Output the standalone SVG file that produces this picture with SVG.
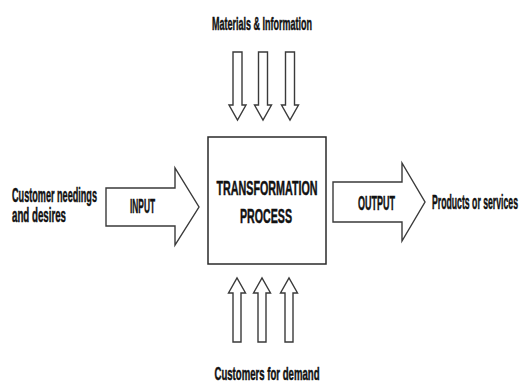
<svg xmlns="http://www.w3.org/2000/svg" width="519" height="383" viewBox="0 0 519 383">
  <style>
    .lbl { font-family: "Liberation Sans", Arial, sans-serif; font-weight: bold; fill: #111111; stroke: #111111; stroke-width: 0.5; font-size: 20px; }
    .sm { font-size: 18px; }
    .arrow { fill: #ffffff; stroke: #3a3a3a; stroke-width: 1.4; stroke-linejoin: miter; }
    .box { fill: #ffffff; stroke: #2a2a2a; stroke-width: 1.5; }
  </style>
  <rect width="519" height="383" fill="#ffffff"/>

  <!-- central process -->
  <g id="process">
    <rect class="box" x="208" y="137" width="118" height="127"/>
    <text class="lbl" x="267" y="195" text-anchor="middle" textLength="101" lengthAdjust="spacingAndGlyphs">TRANSFORMATION</text>
    <text class="lbl" x="266" y="223" text-anchor="middle" textLength="52" lengthAdjust="spacingAndGlyphs">PROCESS</text>
  </g>

  <!-- outer labels -->
  <g id="materials">
    <text class="lbl sm" x="262" y="30" text-anchor="middle" textLength="100" lengthAdjust="spacingAndGlyphs">Materials &amp; Information</text>
  </g>
  <g id="customers-demand">
    <text class="lbl sm" x="267" y="380" text-anchor="middle" textLength="105" lengthAdjust="spacingAndGlyphs">Customers for demand</text>
  </g>
  <g id="customer-needs">
    <text class="lbl" x="12" y="202" textLength="85" lengthAdjust="spacingAndGlyphs">Customer needings</text>
    <text class="lbl" x="12" y="222" textLength="54" lengthAdjust="spacingAndGlyphs">and desires</text>
  </g>
  <g id="products">
    <text class="lbl" x="432" y="209" textLength="86" lengthAdjust="spacingAndGlyphs">Products or services</text>
  </g>

  <!-- connectors: block arrows -->
  <g id="connectors">
    <!-- inflow from above -->
    <polygon class="arrow" points="233,52 242,52 242,105 246,105 237.5,120 229,105 233,105"/>
    <polygon class="arrow" points="258.5,52 267.5,52 267.5,105 271.5,105 263,120 254.5,105 258.5,105"/>
    <polygon class="arrow" points="285.5,52 294.5,52 294.5,105 298.5,105 290,120 281.5,105 285.5,105"/>
    <!-- inflow from below -->
    <polygon class="arrow" points="233,342 241,342 241,293 245.5,293 237,278 228.5,293 233,293"/>
    <polygon class="arrow" points="258,342 266,342 266,293 270.5,293 262,278 253.5,293 258,293"/>
    <polygon class="arrow" points="285,342 293,342 293,293 297.5,293 289,278 280.5,293 285,293"/>
    <!-- input -->
    <g id="input">
      <polygon class="arrow" points="106,188 175,188 175,168 199,207 175,245 175,226 106,226"/>
      <text class="lbl" x="142.5" y="213" text-anchor="middle" textLength="25" lengthAdjust="spacingAndGlyphs">INPUT</text>
    </g>
    <!-- output -->
    <g id="output">
      <polygon class="arrow" points="333,182 402,182 402,163 425,202 402,241 402,222 333,222"/>
      <text class="lbl" x="376.5" y="210" text-anchor="middle" textLength="37" lengthAdjust="spacingAndGlyphs">OUTPUT</text>
    </g>
  </g>
</svg>
